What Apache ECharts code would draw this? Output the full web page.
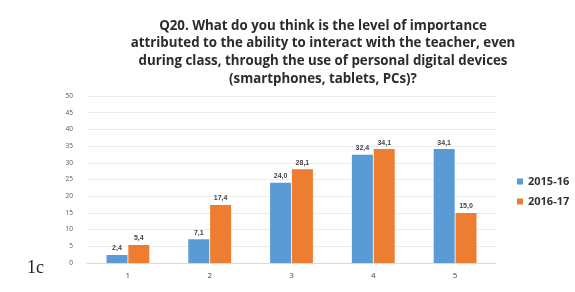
<!DOCTYPE html>
<html>
<head>
<meta charset="utf-8">
<script src="https://cdn.jsdelivr.net/npm/echarts@6/dist/echarts.min.js"></script>
<style>
  html, body { margin: 0; padding: 0; background: #fff; }
  #chart { width: 575px; height: 292px; }
</style>
</head>
<body>
<div id="chart"></div>
<script>
const categories = ["1", "2", "3", "4", "5"];
const series2015 = [2.4, 7.1, 24.0, 32.4, 34.1];
const series2016 = [5.4, 17.4, 28.1, 34.1, 15.0];
const seriesNames = ["2015-16", "2016-17"];

const chart = echarts.init(document.getElementById("chart"));

const labelFmt = (p) => p.value.toFixed(1).replace(".", ",");

const option = {
  backgroundColor: "#fff",
  animation: false,
  title: {
    text: "Q20. What do you think is the level of importance\nattributed to the ability to interact with the teacher, even\nduring class, through the use of personal digital devices\n(smartphones, tablets, PCs)?",
    left: 318,
    top: 12,
    textAlign: "center",
    textStyle: {
      fontFamily: "Open Sans",
      fontWeight: "bold",
      fontSize: 13.3,
      lineHeight: 17.7,
      color: "#2b2b2b",
    },
  },
  legend: {
    orient: "vertical",
    left: 512,
    top: 171,
    itemWidth: 6,
    itemHeight: 6,
    itemGap: 9,
    icon: "rect",
    textStyle: {
      fontFamily: "Open Sans",
      fontWeight: "bold",
      fontSize: 11,
      color: "#333",
    },
  },
  grid: {
    left: 87,
    right: 79,
    top: 96,
    bottom: 29,
  },
  xAxis: {
    type: "category",
    data: categories,
    axisLine: { lineStyle: { color: "#d9d9d9" } },
    axisTick: { show: false },
    axisLabel: {
      color: "#444",
      fontSize: 8,
      margin: 9,
      fontFamily: "Open Sans",
    },
  },
  yAxis: {
    type: "value",
    min: 0,
    max: 50,
    interval: 5,
    axisLine: { show: false },
    axisTick: { show: false },
    splitLine: { lineStyle: { color: "#ececec" } },
    axisLabel: {
      color: "#555",
      fontSize: 6.5,
      margin: 14,
      fontFamily: "Open Sans",
    },
  },
  series: [
    {
      name: seriesNames[0],
      type: "bar",
      data: series2015,
      barWidth: 21,
      barGap: "4%",
      itemStyle: { color: "#5B9BD5" },
      label: {
        show: true,
        position: "top",
        distance: 3,
        fontSize: 7,
        fontWeight: "bold",
        color: "#444",
        formatter: labelFmt,
      },
    },
    {
      name: seriesNames[1],
      type: "bar",
      data: series2016,
      barWidth: 21,
      itemStyle: { color: "#ED7D31" },
      label: {
        show: true,
        position: "top",
        distance: 3,
        fontSize: 7,
        fontWeight: "bold",
        color: "#444",
        formatter: labelFmt,
      },
    },
  ],
  graphic: [
    {
      type: "text",
      left: 27,
      top: 259,
      style: {
        text: "1c",
        font: "18px 'Liberation Serif'",
        fill: "#222",
      },
    },
  ],
};

chart.setOption(option);
</script>
</body>
</html>
